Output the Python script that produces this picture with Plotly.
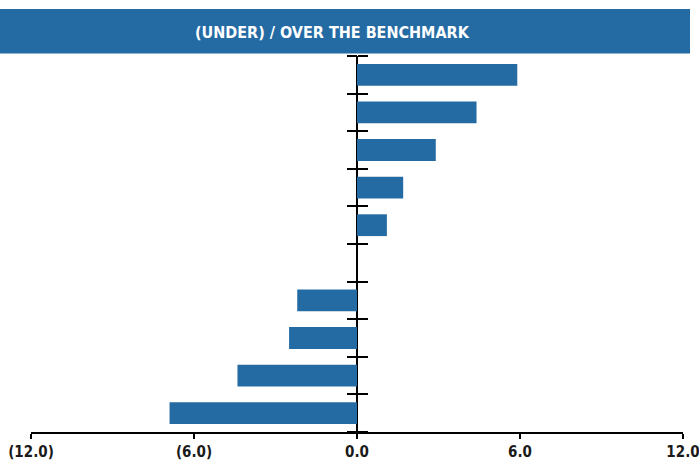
import plotly.graph_objects as go

categories = ["A", "B", "C", "D", "E", "F", "G", "H", "I", "J"]
values = [5.9, 4.4, 2.9, 1.7, 1.1, 0.0, -2.2, -2.5, -4.4, -6.9]
x_tickvals = [-12, -6, 0, 6, 12]
x_ticktext = ["(12.0)", "(6.0)", "0.0", "6.0", "12.0"]
title_text = "(UNDER) / OVER THE BENCHMARK"

BLUE = "#246BA4"
FONT = "DejaVu Sans Condensed"

n = len(categories)
idx = list(range(n))
boundaries = [i - 0.5 for i in range(n + 1)]

fig = go.Figure()
fig.add_trace(go.Bar(
    y=idx, x=values, orientation="h", width=0.58,
    marker=dict(color=BLUE, line=dict(width=0)),
    hovertext=categories, showlegend=False,
))
fig.add_trace(go.Scatter(x=[0], y=[0], yaxis="y2", mode="markers",
                         marker=dict(opacity=0), showlegend=False, hoverinfo="skip"))

yrange = [n - 0.5, -0.5]
common_y = dict(range=yrange, tickmode="array", tickvals=boundaries,
                showticklabels=False, ticks="outside", ticklen=10, tickwidth=2,
                tickcolor="black", showgrid=False, zeroline=False, showline=False,
                anchor="free", position=0.5, automargin=False)
fig.update_layout(
    width=699, height=461,
    margin=dict(l=31, r=16, t=56, b=29, autoexpand=False),
    paper_bgcolor="white", plot_bgcolor="white",
    bargap=0.42,
    xaxis=dict(range=[-12, 12], tickmode="array", tickvals=x_tickvals, ticktext=x_ticktext,
               showgrid=False, zeroline=True, zerolinecolor="black", zerolinewidth=1.5,
               showline=True, linecolor="black", linewidth=1.5,
               ticks="outside", ticklen=5, tickwidth=1.5, tickcolor="black",
               automargin=False, ticklabeloverflow="allow",
               tickfont=dict(family=FONT, size=15, color="#1a1a1a", weight="bold")),
    yaxis=dict(side="left", **common_y),
    yaxis2=dict(side="right", overlaying="y", **common_y),
    font=dict(family=FONT),
)

x0 = -31 / 652
x1 = (690 - 31) / 652
fig.add_shape(type="rect", xref="paper", yref="paper",
              x0=x0, x1=x1, y0=(432 - 53.5) / 376, y1=(432 - 9) / 376,
              fillcolor=BLUE, line=dict(width=0), layer="below")
fig.add_annotation(text=title_text, xref="paper", yref="paper",
                   x=(332 - 31) / 652, y=(432 - 32.5) / 376,
                   xanchor="center", yanchor="middle", showarrow=False,
                   font=dict(family=FONT, size=16, color="white", weight="bold"))

fig.write_html("out.html", config={"displayModeBar": False},
               post_script="document.body.style.margin='0';document.body.style.overflow='hidden';")
